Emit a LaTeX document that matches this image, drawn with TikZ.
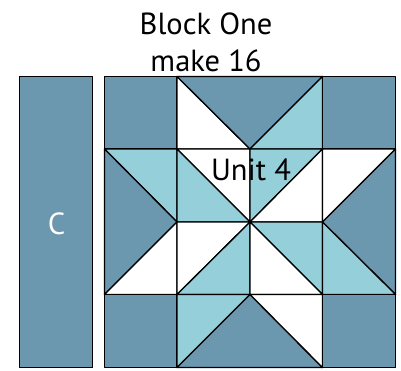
\documentclass[tikz,border=0pt]{standalone}
\usepackage{fontspec}
\setmainfont{PT Sans}
\usepackage{xcolor}
\definecolor{QDark}{HTML}{6C98AF}
\definecolor{QLight}{HTML}{94CFDA}
\tikzset{
  dpatch/.style={fill=QDark,draw=black,line width=1.3pt,line join=round},
  lpatch/.style={fill=QLight,draw=black,line width=1.3pt,line join=round},
  wpatch/.style={fill=white,draw=black,line width=1.3pt,line join=round},
  qlabel/.style={inner sep=0pt,font=\fontsize{30.5}{30.5}\selectfont}
}
\begin{document}
\begin{tikzpicture}[x=1pt,y=-1pt]
\path[use as bounding box] (0,0) rectangle (401,370);
\fill[white] (0,0) rectangle (401,370);
% side strip
\filldraw[dpatch] (19.5,76.5) rectangle (92.5,367.5);
% row 1
\filldraw[dpatch] (104.5,76.5) rectangle (177,149);
\filldraw[wpatch] (177,76.5) -- (250,149) -- (177,149) -- cycle;
\filldraw[dpatch] (177,76.5) -- (322.5,76.5) -- (250,149) -- cycle;
\filldraw[lpatch] (322.5,76.5) -- (322.5,149) -- (250,149) -- cycle;
\filldraw[dpatch] (322.5,76.5) rectangle (395.5,149);
% row 2
\filldraw[lpatch] (104.5,149) -- (177,149) -- (177,222) -- cycle;
\filldraw[dpatch] (104.5,149) -- (177,222) -- (104.5,294.5) -- cycle;
\filldraw[wpatch] (177,149) -- (250,149) -- (250,222) -- cycle;
\filldraw[lpatch] (177,149) -- (250,222) -- (177,222) -- cycle;
\filldraw[lpatch] (250,149) -- (322.5,149) -- (250,222) -- cycle;
\filldraw[wpatch] (322.5,149) -- (322.5,222) -- (250,222) -- cycle;
\filldraw[wpatch] (322.5,149) -- (395.5,149) -- (322.5,222) -- cycle;
\filldraw[dpatch] (395.5,149) -- (395.5,294.5) -- (322.5,222) -- cycle;
% row 3
\filldraw[wpatch] (177,222) -- (177,294.5) -- (104.5,294.5) -- cycle;
\filldraw[wpatch] (177,222) -- (250,222) -- (177,294.5) -- cycle;
\filldraw[lpatch] (250,222) -- (250,294.5) -- (177,294.5) -- cycle;
\filldraw[lpatch] (250,222) -- (322.5,222) -- (322.5,294.5) -- cycle;
\filldraw[wpatch] (250,222) -- (322.5,294.5) -- (250,294.5) -- cycle;
\filldraw[lpatch] (322.5,222) -- (395.5,294.5) -- (322.5,294.5) -- cycle;
% row 4
\filldraw[dpatch] (104.5,294.5) rectangle (177,367.5);
\filldraw[lpatch] (177,294.5) -- (250,294.5) -- (177,367.5) -- cycle;
\filldraw[dpatch] (250,294.5) -- (322.5,367.5) -- (177,367.5) -- cycle;
\filldraw[wpatch] (250,294.5) -- (322.5,294.5) -- (322.5,367.5) -- cycle;
\filldraw[dpatch] (322.5,294.5) rectangle (395.5,367.5);
% labels
\node[qlabel] (blockname) at (206,24) {Block One};
\node[qlabel] (blockcount) at (206,61) {make 16};
\node[qlabel,text=white] (stripname) at (56.5,224) {C};
\node[qlabel] (unitname) at (251,170) {Unit 4};
\end{tikzpicture}
\end{document}
